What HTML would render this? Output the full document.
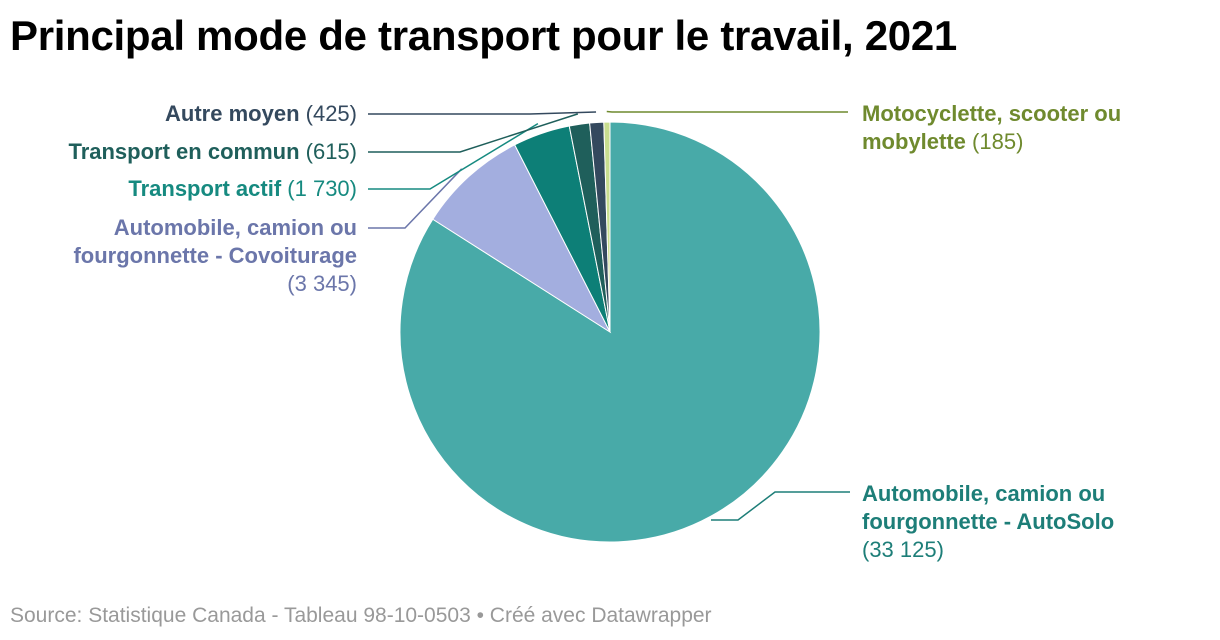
<!DOCTYPE html>
<html><head><meta charset="utf-8"><style>
body{margin:0;background:#fff;font-family:"Liberation Sans",sans-serif;}
#wrap{position:relative;width:1220px;height:640px;overflow:hidden}
h1{position:absolute;left:10px;top:12px;margin:0;font-size:42px;font-weight:bold;color:#000;letter-spacing:-0.3px}
.src{position:absolute;left:10px;top:604px;font-size:21px;color:#999}
svg text{font-family:"Liberation Sans",sans-serif;font-size:22px}
</style></head><body>
<div id="wrap">
<h1>Principal mode de transport pour le travail, 2021</h1>
<svg id="pie" width="1220" height="640" style="position:absolute;left:0;top:0"></svg>
<div class="src">Source: Statistique Canada - Tableau 98-10-0503 • Créé avec Datawrapper</div>
</div>
<script>
const categories=["Automobile, camion ou fourgonnette - AutoSolo","Automobile, camion ou fourgonnette - Covoiturage","Transport actif","Transport en commun","Autre moyen","Motocyclette, scooter ou mobylette"];
const values=[33125,3345,1730,615,425,185];
const valueLabels=["33 125","3 345","1 730","615","425","185"];
const colors=["#48aaa8","#a3aedf","#0d7f77","#1f5f5b","#34495e","#c8dd8f"];
const textColors=["#1d7e78","#6b76aa","#168a80","#1f5f5b","#34495e","#6f8a2e"];
const svg=document.getElementById('pie');
const NS="http://www.w3.org/2000/svg";
const cx=610,cy=332,R=210;
const total=values.reduce((a,b)=>a+b,0);
function pt(a,r){return [cx+r*Math.sin(a),cy-r*Math.cos(a)];}
let acc=0;const mids=[];
values.forEach((v,i)=>{
  const a0=acc/total*2*Math.PI;acc+=v;const a1=acc/total*2*Math.PI;
  mids.push((a0+a1)/2);
  const p0=pt(a0,R),p1=pt(a1,R);
  const large=(a1-a0)>Math.PI?1:0;
  const p=document.createElementNS(NS,'path');
  p.setAttribute('d',`M${cx},${cy}L${p0[0]},${p0[1]}A${R},${R} 0 ${large} 1 ${p1[0]},${p1[1]}Z`);
  p.setAttribute('fill',colors[i]);p.setAttribute('stroke','#fff');p.setAttribute('stroke-width','1');
  
  
  svg.appendChild(p);
});
const layout=[
 {side:'r',y:492,lines:[["Automobile, camion ou",""],["fourgonnette - AutoSolo",""],["","(33 125)"]],ty:501,elbowX:775},
 {side:'l',y:228,lines:[["Automobile, camion ou",""],["fourgonnette - Covoiturage",""],["","(3 345)"]],ty:235,elbowX:405},
 {side:'l',y:189,lines:[["Transport actif"," (1 730)"]],ty:196,elbowX:430},
 {side:'l',y:152,lines:[["Transport en commun"," (615)"]],ty:159,elbowX:460},
 {side:'l',y:114,lines:[["Autre moyen"," (425)"]],ty:121,elbowX:530},
 {side:'r',y:112,lines:[["Motocyclette, scooter ou",""],["mobylette"," (185)"]],ty:121,elbowX:612}
];
layout.forEach((L,i)=>{
  const r=(i===0)?R*0.93:R*1.05;
  const s=pt(mids[i],r);
  const pl=document.createElementNS(NS,'polyline');
  let pts;
  if(L.side==='l') pts=[[s[0],s[1]],[L.elbowX,L.y],[368,L.y]];
  else if(i===0) pts=[[s[0]+7,520],[738,520],[L.elbowX,L.y],[850,L.y]];
  else pts=[[s[0],s[1]],[L.elbowX,L.y],[848,L.y]];
  pl.setAttribute('points',pts.map(p=>p.join(',')).join(' '));
  pl.setAttribute('fill','none');pl.setAttribute('stroke',textColors[i]);pl.setAttribute('stroke-width','1.5');
  
  
  svg.appendChild(pl);
  const t=document.createElementNS(NS,'text');
  t.setAttribute('fill',textColors[i]);
  t.setAttribute('text-anchor',L.side==='l'?'end':'start');
  
  
  L.lines.forEach((ln,k)=>{
    const ts=document.createElementNS(NS,'tspan');
    ts.setAttribute('x',L.side==='l'?357:862);ts.setAttribute('y',L.ty+k*28);
    if(ln[0]){const b=document.createElementNS(NS,'tspan');b.setAttribute('font-weight','bold');b.textContent=ln[0];ts.appendChild(b);}
    if(ln[1]){const n=document.createElementNS(NS,'tspan');n.textContent=ln[1];ts.appendChild(n);}
    t.appendChild(ts);
  });
  svg.appendChild(t);
});
</script>
</body></html>
